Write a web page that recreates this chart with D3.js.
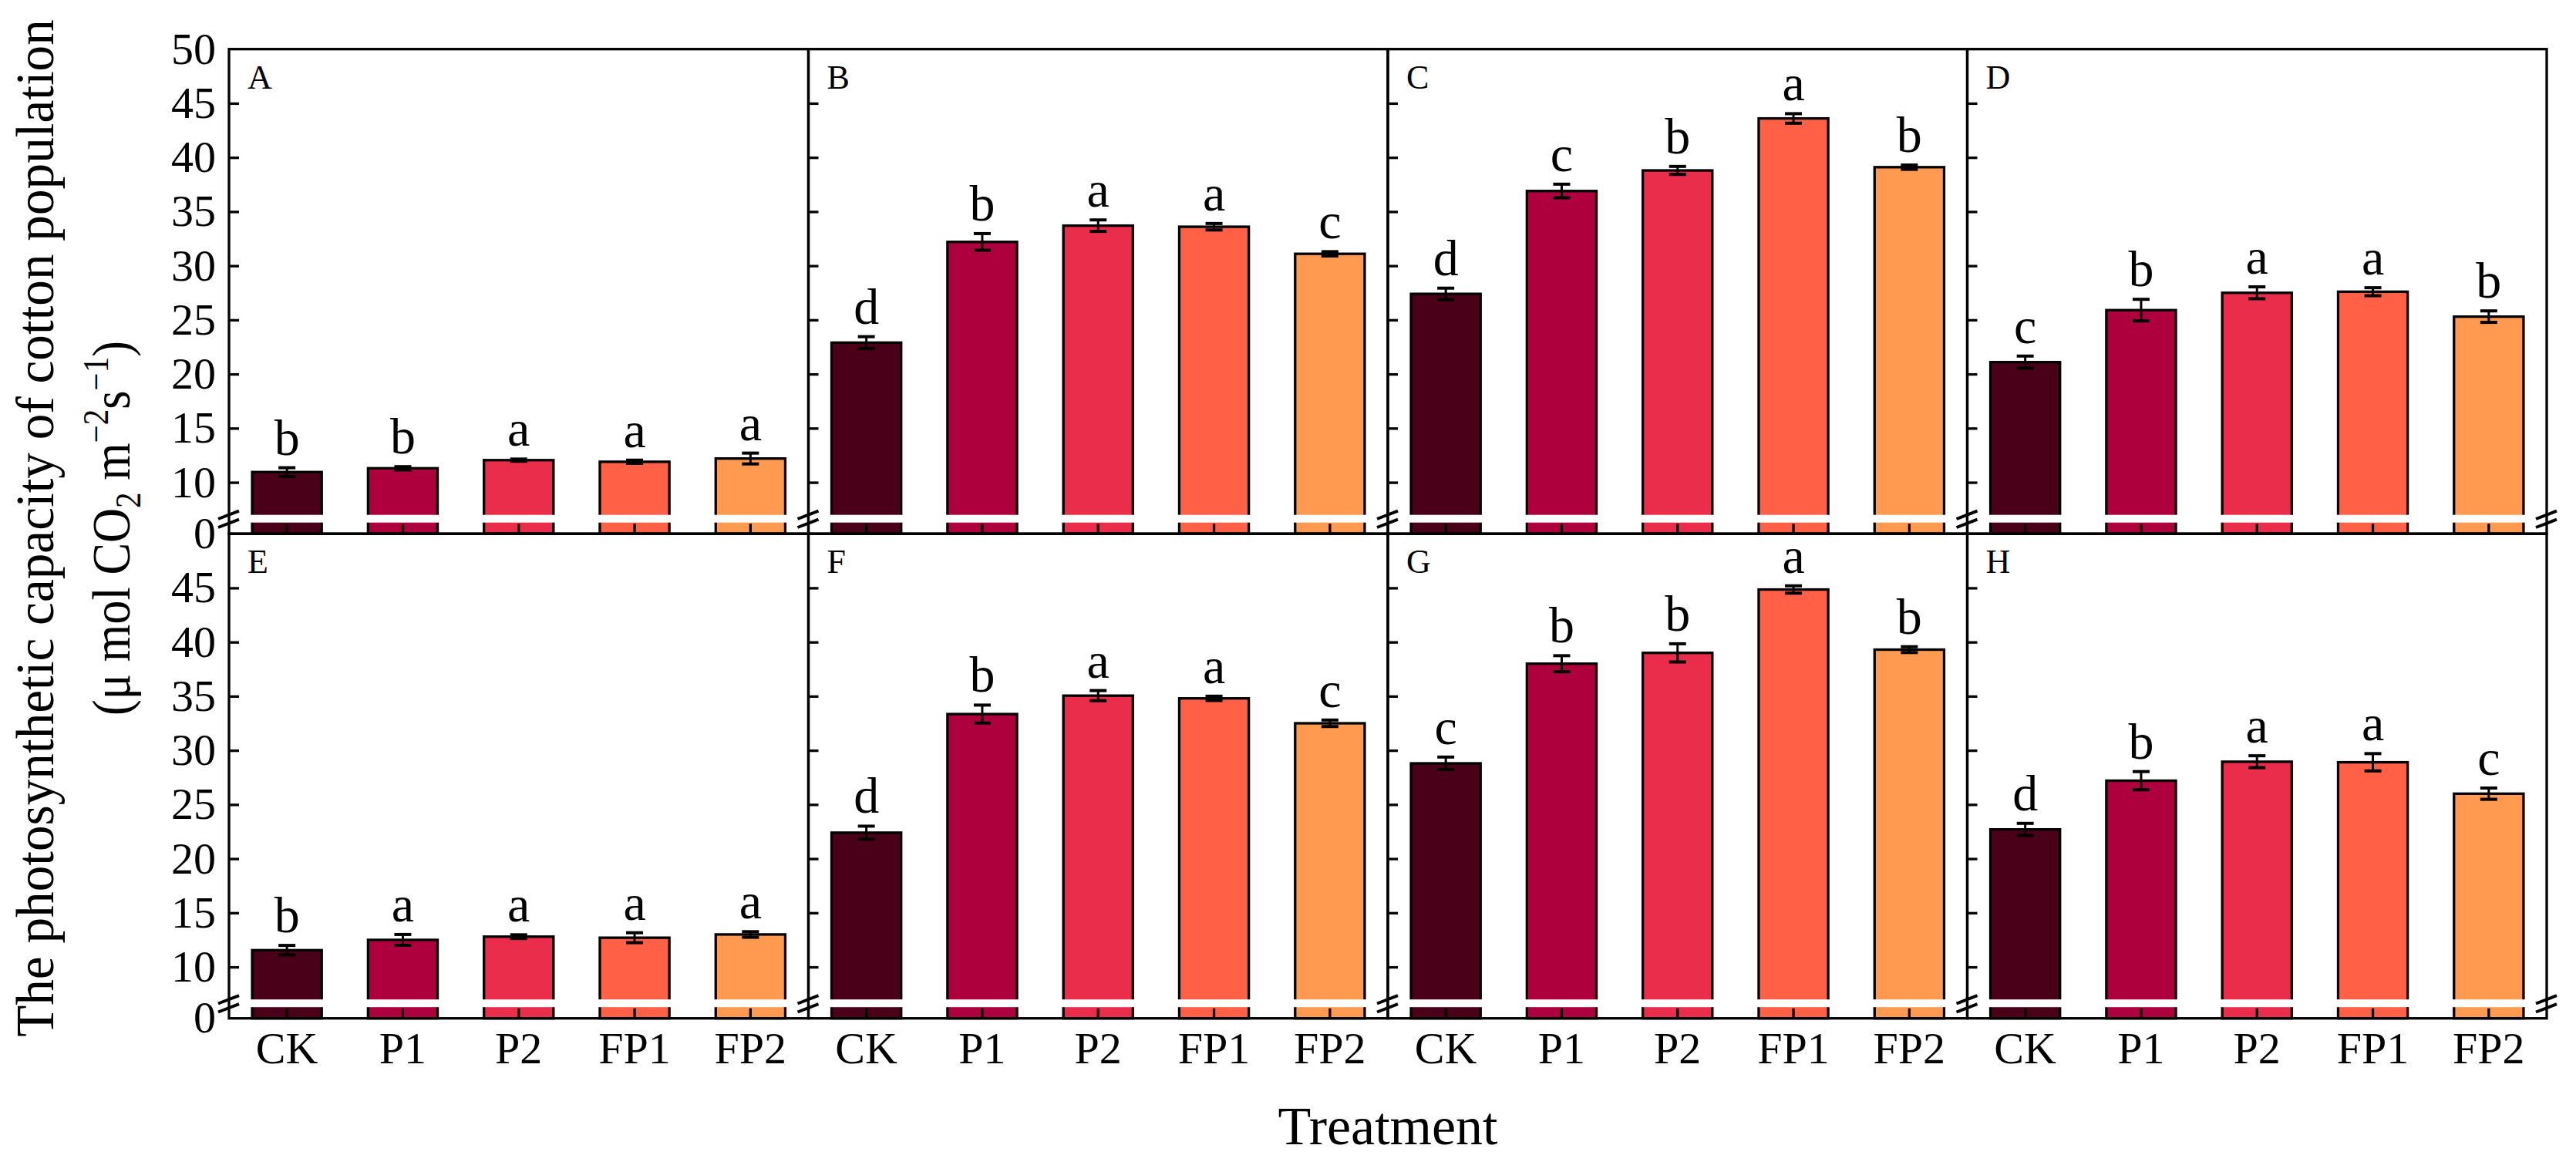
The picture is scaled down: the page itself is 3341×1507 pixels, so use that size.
<!DOCTYPE html>
<html>
<head>
<meta charset="utf-8">
<script src="https://cdn.jsdelivr.net/npm/d3@7"></script>
<style>
  body { margin: 0; background: #fff; }
  text { font-family: "Liberation Serif", "Times New Roman", serif; fill: #000; }
</style>
</head>
<body>
<div id="chart"></div>
<script>
// Data
const treatments = ["CK", "P1", "P2", "FP1", "FP2"];
const panelNames = ["A", "B", "C", "D", "E", "F", "G", "H"];
const colors = ["#4b0019", "#ae003c", "#ea2d4b", "#ff6046", "#ff9a50"];

const means = [
  [10.95, 11.3, 12.05, 11.9, 12.2],
  [22.9, 32.2, 33.7, 33.6, 31.1],
  [27.4, 36.9, 38.8, 43.6, 39.1],
  [21.1, 25.9, 27.5, 27.6, 25.3],
  [11.55, 12.5, 12.8, 12.7, 13.0],
  [22.4, 33.35, 35.05, 34.8, 32.5],
  [28.8, 38.0, 39.0, 44.85, 39.3],
  [22.7, 27.2, 28.95, 28.9, 26.0]
];
const errors = [
  [0.4, 0.15, 0.1, 0.15, 0.5],
  [0.55, 0.77, 0.53, 0.3, 0.2],
  [0.53, 0.63, 0.37, 0.44, 0.2],
  [0.56, 1.0, 0.55, 0.37, 0.53],
  [0.44, 0.5, 0.17, 0.46, 0.26],
  [0.6, 0.83, 0.47, 0.2, 0.3],
  [0.58, 0.74, 0.84, 0.34, 0.27],
  [0.56, 0.84, 0.55, 0.8, 0.52]
];
const letters = [
  ["b", "b", "a", "a", "a"],
  ["d", "b", "a", "a", "c"],
  ["d", "c", "b", "a", "b"],
  ["c", "b", "a", "a", "b"],
  ["b", "a", "a", "a", "a"],
  ["d", "b", "a", "a", "c"],
  ["c", "b", "b", "a", "b"],
  ["d", "b", "a", "a", "c"]
];
const yTicks = [10, 15, 20, 25, 30, 35, 40, 45];

// Layout
const W = 3341, H = 1507;
const marginLeft = 297, marginTop = 63.7;
const panelW = 751.5, panelH = 628.5;
const upperH = 604;          // bottom of the upper (7-50) segment
const gapH = 10;             // white break band
const lw = 3.3;

const svg = d3.select("#chart")
  .append("svg")
    .attr("width", W)
    .attr("height", H);

const x = d3.scaleBand()
  .domain(treatments)
  .range([0, panelW])
  .paddingInner(0.4)
  .paddingOuter(0.2);

const y = d3.scaleLinear()
  .domain([7, 50])
  .range([upperH, 0]);

panelNames.forEach((name, i) => {
  const col = i % 4, row = Math.floor(i / 4);
  const g = svg.append("g")
    .attr("transform", `translate(${marginLeft + col * panelW},${marginTop + row * panelH})`);

  const data = treatments.map((t, j) => ({t: t, m: means[i][j], e: errors[i][j], l: letters[i][j], c: colors[j]}));

  // bars
  g.selectAll(".bar")
    .data(data)
    .join("rect")
      .attr("class", "bar")
      .attr("x", d => x(d.t))
      .attr("y", d => y(d.m))
      .attr("width", x.bandwidth())
      .attr("height", d => panelH - y(d.m))
      .attr("fill", d => d.c)
      .attr("stroke", "#000")
      .attr("stroke-width", lw);

  // break band
  g.append("rect")
    .attr("x", lw / 2)
    .attr("y", upperH)
    .attr("width", panelW - lw)
    .attr("height", gapH)
    .attr("fill", "#fff");

  // error bars
  const eb = g.selectAll(".err")
    .data(data)
    .join("g")
      .attr("class", "err")
      .attr("transform", d => `translate(${x(d.t) + x.bandwidth() / 2},0)`)
      .attr("stroke", "#000");
  eb.append("line")
    .attr("y1", d => y(d.m - d.e))
    .attr("y2", d => y(d.m + d.e))
    .attr("stroke-width", 3);
  eb.append("line")
    .attr("x1", -11).attr("x2", 11)
    .attr("y1", d => y(d.m + d.e))
    .attr("y2", d => y(d.m + d.e))
    .attr("stroke-width", 4);
  eb.append("line")
    .attr("x1", -11).attr("x2", 11)
    .attr("y1", d => y(d.m - d.e))
    .attr("y2", d => y(d.m - d.e))
    .attr("stroke-width", 4);

  // significance letters
  g.selectAll(".sig")
    .data(data)
    .join("text")
      .attr("class", "sig")
      .attr("x", d => x(d.t) + x.bandwidth() / 2)
      .attr("y", d => y(d.m + d.e) - 17)
      .attr("text-anchor", "middle")
      .style("font-size", "66px")
      .text(d => d.l);

  // x ticks (inward)
  g.selectAll(".xt")
    .data(treatments)
    .join("line")
      .attr("class", "xt")
      .attr("x1", d => x(d) + x.bandwidth() / 2)
      .attr("x2", d => x(d) + x.bandwidth() / 2)
      .attr("y1", panelH)
      .attr("y2", panelH - 13)
      .attr("stroke", "#000")
      .attr("stroke-width", lw);

  // y ticks (inward)
  g.append("g")
    .call(d3.axisRight(y).tickValues(yTicks).tickSize(13).tickFormat(""))
    .call(a => a.select(".domain").remove())
    .call(a => a.selectAll("line").attr("stroke-width", lw));

  // frame
  g.append("rect")
    .attr("width", panelW)
    .attr("height", panelH)
    .attr("fill", "none")
    .attr("stroke", "#000")
    .attr("stroke-width", lw);

  // break marks
  const marks = col === 3 ? [0, panelW] : [0];
  marks.forEach(mx => {
    [0, 11].forEach(off => {
      g.append("line")
        .attr("x1", mx - 14).attr("y1", 609.3 + off)
        .attr("x2", mx + 13).attr("y2", 599 + off)
        .attr("stroke", "#000")
        .attr("stroke-width", 4);
    });
  });

  // panel label
  g.append("text")
    .attr("x", 24)
    .attr("y", 51)
    .style("font-size", "44px")
    .text(name);

  // y tick labels on the first column
  if (col === 0) {
    const labels = row === 0 ? yTicks.concat([50]) : yTicks;
    g.append("g")
      .call(d3.axisLeft(y).tickValues(labels).tickSize(0).tickPadding(17))
      .call(a => a.select(".domain").remove())
      .call(a => a.selectAll("text").style("font-size", "58px").attr("font-family", null));
    g.append("text")
      .attr("x", -17)
      .attr("y", panelH)
      .attr("dy", "0.32em")
      .attr("text-anchor", "end")
      .style("font-size", "58px")
      .text("0");
  }

  // x labels on the bottom row
  if (row === 1) {
    g.selectAll(".xl")
      .data(treatments)
      .join("text")
        .attr("class", "xl")
        .attr("x", d => x(d) + x.bandwidth() / 2)
        .attr("y", panelH + 58.5)
        .attr("text-anchor", "middle")
        .style("font-size", "58px")
        .text(d => d);
  }
});

// axis titles
svg.append("text")
  .attr("x", marginLeft + 2 * panelW)
  .attr("y", 1484)
  .attr("text-anchor", "middle")
  .style("font-size", "70px")
  .text("Treatment");

// y title: two rotated lines, squeezed along the text to the reference length
const cy = 685;
function fitRotated(sel, bx, len) {
  const sx = len / sel.node().getComputedTextLength();
  sel.attr("transform", `translate(${bx},${cy}) rotate(-90) scale(${sx},1)`);
}

const t1 = svg.append("text")
  .attr("text-anchor", "middle")
  .style("font-size", "70px")
  .text("The photosynthetic capacity of cotton population");
fitRotated(t1, 69, 1320);

const t2 = svg.append("text")
  .attr("text-anchor", "middle")
  .style("font-size", "70px");
t2.append("tspan").text("(\u03bc mol CO");
t2.append("tspan").attr("dy", 14).style("font-size", "46px").text("2");
t2.append("tspan").attr("dy", -14).text(" m");
t2.append("tspan").attr("dy", -28).style("font-size", "46px").text("\u22122");
t2.append("tspan").attr("dy", 28).text("s");
t2.append("tspan").attr("dy", -28).style("font-size", "46px").text("\u22121");
t2.append("tspan").attr("dy", 28).text(")");
fitRotated(t2, 168, 486);
</script>
</body>
</html>
